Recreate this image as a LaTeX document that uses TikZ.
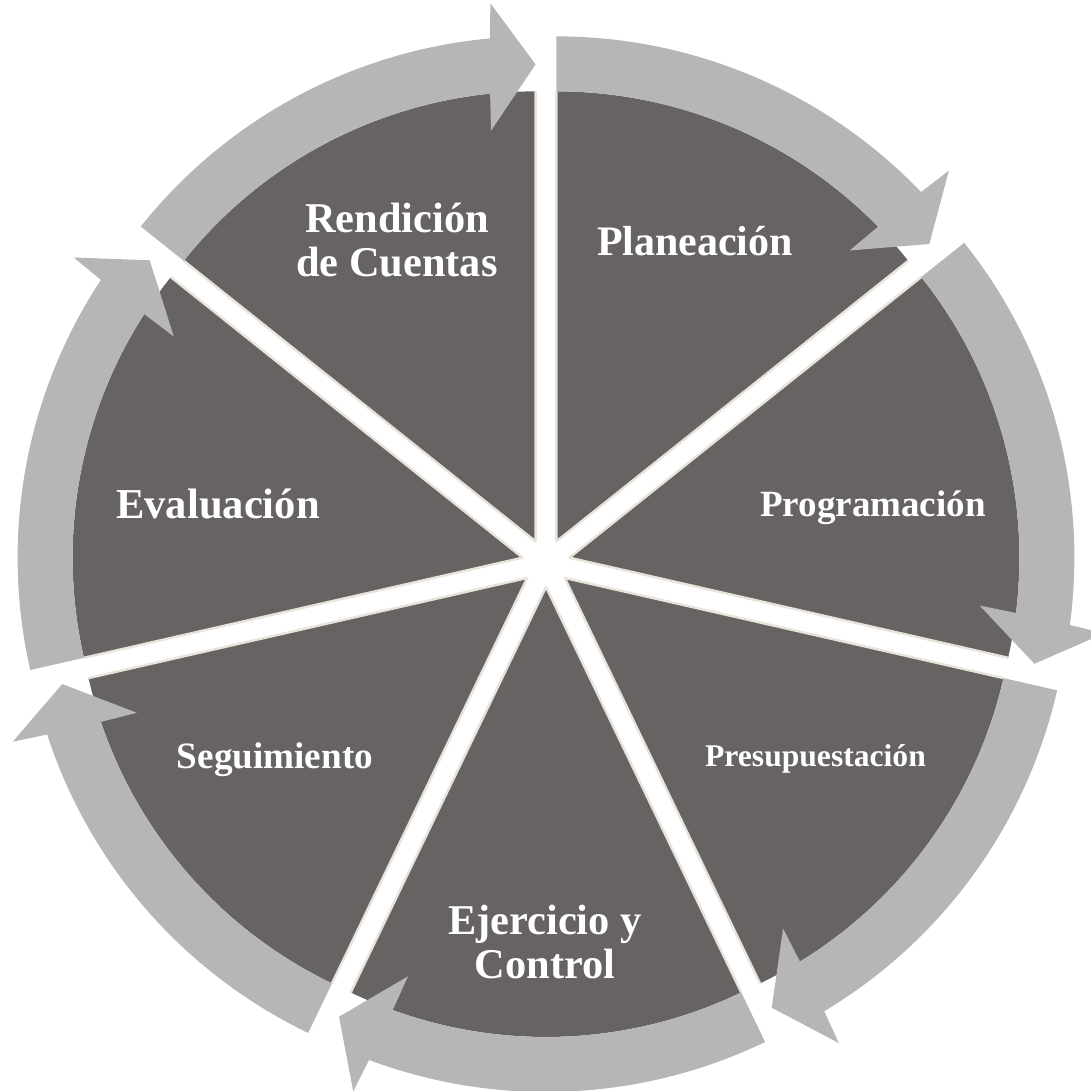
\documentclass[tikz,border=0pt]{standalone}
\usepackage{fontspec}
\setmainfont{Liberation Serif}
\usepackage{tikz}
\definecolor{SectorGray}{HTML}{676362}
\definecolor{EdgeBeige}{HTML}{E8E4DC}
\definecolor{RingGray}{HTML}{B6B6B6}

\begin{document}
\begin{tikzpicture}[
  x=0.5pt, y=0.5pt,
  sector/.style={fill=SectorGray},
  edge/.style={draw=EdgeBeige, line width=1.2pt, line join=round},
  ring/.style={fill=RingGray},
  lbl/.style={text=white, align=center, inner sep=0pt,
              font={\fontsize{#1}{22}\selectfont\bfseries}},
]
\useasboundingbox (-546,-528) rectangle (545,563);

\foreach \i in {0,...,6} {
  \pgfmathsetmacro{\a}{90-\i*360/7}
  \pgfmathsetmacro{\b}{\a-360/7}
  \pgfmathsetmacro{\m}{\a-180/7}
  \begin{scope}[shift={(\m:24)}]
    \fill[sector] (0,0) -- (\a:450) arc[start angle=\a, end angle=\b, radius=450] -- cycle;
    \draw[edge] (\b:450) -- (0,0) -- (\a:450);
    \fill[ring] (\a:505) arc[start angle=\a, end angle=\b+5.2, radius=505]
      -- (\b+4.8:540) -- (\b:477) -- (\b+6.2:413) -- (\b+5.8:450)
      arc[start angle=\b+5.8, end angle=\a, radius=450] -- cycle;
  \end{scope}
}

\node[lbl=21.2] (rendicion) at (-149,322.5) {Rendición\\de Cuentas};
\node[lbl=21, anchor=base] (planeacion) at (149,307) {Planeación};
\node[lbl=18.5, anchor=base] (programacion) at (327,46) {Programación};
\node[lbl=15.8, anchor=base] (presupuestacion) at (269.5,-203) {Presupuestación};
\node[lbl=21.2] (ejercicio) at (-1,-379) {Ejercicio y\\Control};
\node[lbl=18.6, anchor=base] (seguimiento) at (-271,-205) {Seguimiento};
\node[lbl=21.3, anchor=base] (evaluacion) at (-328,44) {Evaluación};

\end{tikzpicture}
\end{document}
